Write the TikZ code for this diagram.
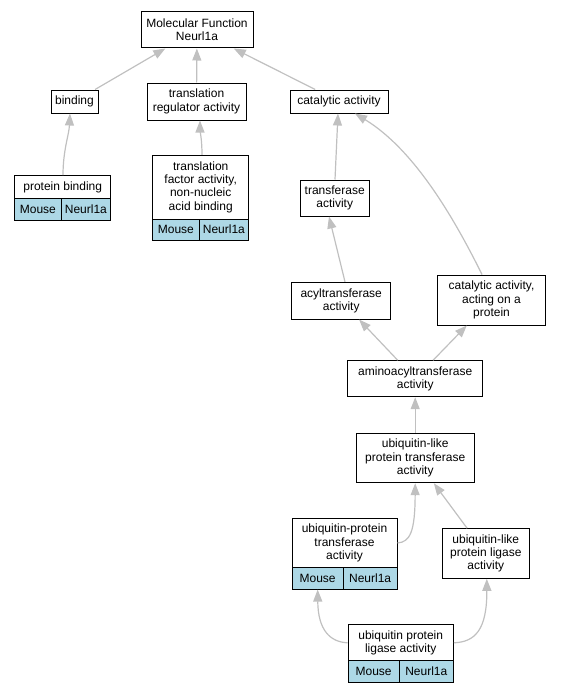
\documentclass[tikz,border=0pt]{standalone}
\usepackage{fontspec}
\setmainfont{Liberation Sans}
\usetikzlibrary{arrows.meta,calc}
\definecolor{cellblue}{HTML}{ADD8E6}
\definecolor{edgegray}{HTML}{C0C0C0}
\begin{document}
\begin{tikzpicture}[x=1pt,y=-1pt,
 box/.style={draw=black,line width=1pt,fill=white,inner sep=0pt,align=center,font=\fontsize{12}{13.3}\selectfont},
 cell/.style={box,fill=cellblue},
 wh/.style 2 args={minimum width=#1pt,minimum height=#2pt},
 edge/.style={draw=edgegray,line width=1.2pt,-{Triangle[length=12pt,width=9pt]}}]
\useasboundingbox (0,0) rectangle (560,693);
% nodes
\node[box,wh={112}{36}] (mf) at (197,30) {Molecular Function\\Neurl1a};
\node[box,wh={47}{23}] (bind) at (74.5,101.5) {binding};
\node[box,wh={99}{37}] (tra) at (196.5,101.5) {translation\\regulator activity};
\node[box,wh={98}{23}] (cat) at (339,101.5) {catalytic activity};
\node[box,wh={96}{22.6}] (pb) at (62.7,187) {protein binding};
\node[cell,wh={46.3}{21.7}] (pbm) at (37.85,209.2) {Mouse};
\node[cell,wh={49.7}{21.7}] (pbn) at (85.85,209.2) {Neurl1a};
\node[box,wh={96}{63.7}] (tf) at (200.7,187.2) {translation\\factor activity,\\non-nucleic\\acid binding};
\node[cell,wh={46.3}{21}] (tfm) at (175.85,229.5) {Mouse};
\node[cell,wh={49.7}{21}] (tfn) at (223.85,229.5) {Neurl1a};
\node[box,wh={69.3}{36}] (tr) at (334.7,198) {transferase\\activity};
\node[box,wh={99}{36.7}] (acyl) at (341.2,300.7) {acyltransferase\\activity};
\node[box,wh={108.4}{50}] (cap) at (491.5,300) {catalytic activity,\\acting on a\\protein};
\node[box,wh={135}{36}] (amino) at (415.2,378.7) {aminoacyltransferase\\activity};
\node[box,wh={118.3}{49.4}] (ult) at (415.2,458) {ubiquitin-like\\protein transferase\\activity};
\node[box,wh={105}{48.6}] (upt) at (344.5,543) {ubiquitin-protein\\transferase\\activity};
\node[cell,wh={51.3}{21.7}] (uptm) at (317.65,578.2) {Mouse};
\node[cell,wh={53.7}{21.7}] (uptn) at (370.15,578.2) {Neurl1a};
\node[box,wh={87}{49.6}] (ull) at (485.8,553.5) {ubiquitin-like\\protein ligase\\activity};
\node[box,wh={105.3}{35.7}] (upl) at (400.7,642.8) {ubiquitin protein\\ligase activity};
\node[cell,wh={51.3}{22}] (uplm) at (373.65,671.7) {Mouse};
\node[cell,wh={54}{22}] (upln) at (426.3,671.7) {Neurl1a};
% edges
\draw[edge] (bind) -- (mf);
\draw[edge] (tra) -- (mf);
\draw[edge] (cat) -- (mf);
\draw[edge] ($(pb.north)+(0.3,0)$) .. controls (63,150) and (69,135) .. ($(bind.south)+(-4.5,0)$);
\draw[edge] ($(tf.north)+(1.3,0)$) .. controls (202,140) and (200,130) .. ($(tra.south)+(3.5,0)$);
\draw[edge] ($(tr.north)+(0.3,0)$) -- ($(cat.south)+(-1,0)$);
\draw[edge] ($(cap.north)+(-9.5,0)$) .. controls (455,220) and (415,150) .. ($(cat.south)+(16,0)$);
\draw[edge] ($(acyl.north)+(3.8,0)$) -- ($(tr.south)+(-5.7,0)$);
\draw[edge] (amino) -- (acyl);
\draw[edge] (amino) -- (cap);
\draw[edge] (ult) -- (amino);
\draw[edge] (upt.east) .. controls (410,542) and (415,532) .. ($(ult.south)+(0,0)$);
\draw[edge] (ull) -- (ult);
\draw[edge] (upl.west) .. controls (330,642) and (318,630) .. (uptm.south);
\draw[edge] (upl.east) .. controls (475,642) and (487,630) .. ($(ull.south)+(1,0)$);
\end{tikzpicture}
\end{document}
